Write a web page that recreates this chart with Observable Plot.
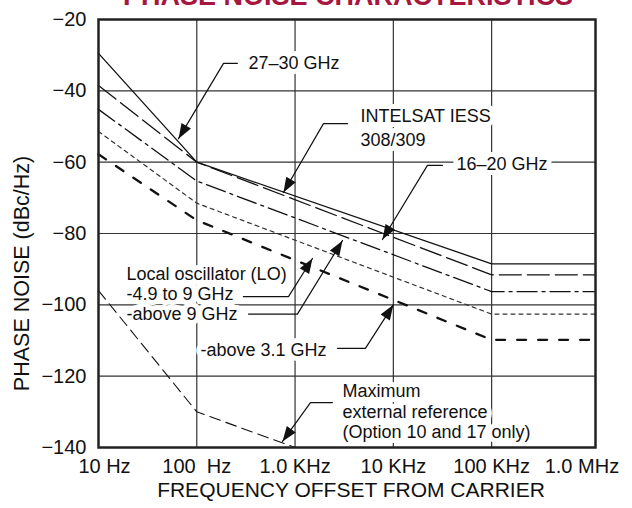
<!DOCTYPE html>
<html><head><meta charset="utf-8">
<script src="https://cdn.jsdelivr.net/npm/d3@7"></script>
<script src="https://cdn.jsdelivr.net/npm/@observablehq/plot@0.6"></script>
<style>
body{margin:0;background:#fff;}
#wrap{position:relative;width:632px;height:508px;overflow:hidden;background:#fff}
#title{position:absolute;left:32px;top:-17px;width:632px;text-align:center;font:bold 27px "Liberation Sans",Arial,sans-serif;color:#a6163f;line-height:27px;white-space:nowrap}
</style></head><body>
<div id="wrap"><div id="chart"></div><div id="title">PHASE NOISE CHARACTERISTICS</div></div>
<script>
// ---- data ----
const xMax = 1.14e6;                       // right edge of the frame
const freqs = [10, 100, 1e5, xMax];
const solid     = [-29.5, -60,   -88.5,  -88.5];
const longDash  = [-38.5, -60,   -91.6,  -91.6];
const dashDot   = [-45.2, -65.3, -96.3,  -96.3];
const shortDash = [-51.4, -71.5, -102.6, -102.6];
const boldDash  = [-57.8, -76.3, -109.8, -109.8];
const extRefFreqs = [10, 100, 1000];
const extRef      = [-96, -130, -140];

const xTicks = [10, 100, 1e3, 1e4, 1e5, 1e6];
const xTickLabels = ["10 Hz", "100\u00a0 Hz", "1.0 KHz", "10 KHz", "100 KHz", "1.0 MHz"];
const yTicks = [-20, -40, -60, -80, -100, -120, -140];

const labelText = ["27–30 GHz", "16–20 GHz", "-above 3.1 GHz",
  "Local oscillator (LO)\n-4.9 to 9 GHz\n-above 9 GHz",
  "Maximum\nexternal reference\n(Option 10 and 17 only)",
  "INTELSAT IESS\n308/309"];
const labelF  = [336, 43850, 109, 19.3, 3034, 4624];
const labelDb = [-32.1, -60.4, -112.5, -96.8, -129.8, -50.0];

const leader27   = [[259, -32.3], [187, -32.3], [65.2, -53.4]];
const leaderInt  = [[3412, -49.2], [1946, -49.2], [762, -68.5]];
const leader16   = [[31550, -60.9], [22230, -60.9], [7745, -81.7]];
const leaderLO49 = [[298.5, -97.7], [857, -97.7], [1503, -87.0]];
const leaderLO9  = [[336, -102.6], [1057, -102.6], [3034, -82.0]];
const leader31   = [[2698, -112.2], [5200, -112.2], [10000, -100]];
const leaderMax  = [[2399, -127.4], [1435, -127.4], [745, -138.3]];

// ---- build ----
const FONT = '"Liberation Sans", Arial, sans-serif';
const INK = "#111";
const mk = (fs, vs) => fs.map((f, i) => ({f, db: vs[i]}));
const labels = labelText.map((t, i) => ({text: t, f: labelF[i], db: labelDb[i]}));
const leaders = [leader27, leaderInt, leader16, leaderLO49, leaderLO9, leader31, leaderMax];
const leaderRows = leaders.flatMap((pts, id) => pts.map(([f, db]) => ({id, f, db})));

const curve = (vals, opts) => Plot.line(mk(freqs, vals), {x: "f", y: "db", stroke: INK, ...opts});
const fmtX = d => xTickLabels[xTicks.indexOf(d)];
const labelMark = (rows, lineHeight) => Plot.text(rows, {x: "f", y: "db", text: "text",
  textAnchor: "start", fontSize: 18, lineHeight, fill: INK,
  stroke: "white", strokeWidth: 10, strokeLinejoin: "round"});

const baseMarks = [
  Plot.ruleY(yTicks.slice(1, -1), {stroke: "#333", strokeWidth: 1.2}),
  Plot.ruleX(xTicks.slice(1, -1), {stroke: "#333", strokeWidth: 1.2}),
  labelMark(labels.slice(0, 5), 1.13),
  labelMark(labels.slice(5), 1.32),
  curve(solid, {strokeWidth: 1.3}),
  curve(longDash, {strokeWidth: 1.3, strokeDasharray: "22,6"}),
  curve(dashDot, {strokeWidth: 1.3, strokeDasharray: "20,5,3,5"}),
  curve(shortDash, {strokeWidth: 1.2, stroke: "#333", strokeDasharray: "4,4"}),
  curve(boldDash, {strokeWidth: 2.3, strokeDasharray: "9,12"}),
  Plot.line(mk(extRefFreqs, extRef), {x: "f", y: "db", stroke: INK, strokeWidth: 1.1, strokeDasharray: "11,6"}),
  Plot.line(leaderRows, {x: "f", y: "db", z: "id", stroke: INK, strokeWidth: 1.2}),
  Plot.frame({stroke: "#222", strokeWidth: 2.5}),
  Plot.axisY(yTicks, {tickSize: 0, tickPadding: 12, fontSize: 20, label: null}),
  Plot.axisX([xTicks[0]], {tickSize: 0, tickPadding: 11, fontSize: 20, label: null, dx: 6, tickFormat: fmtX}),
  Plot.axisX(xTicks.slice(1, -1), {tickSize: 0, tickPadding: 11, fontSize: 20, label: null, tickFormat: fmtX}),
  Plot.axisX([xTicks[xTicks.length - 1]], {tickSize: 0, tickPadding: 11, fontSize: 20, label: null, dx: -8, tickFormat: fmtX}),
  Plot.text(["FREQUENCY OFFSET FROM CARRIER"], {frameAnchor: "bottom", textAnchor: "middle", dy: 49, dx: 4, fontSize: 21, fill: INK}),
  Plot.text(["PHASE NOISE (dBc/Hz)"], {frameAnchor: "left", textAnchor: "middle", dx: -76, dy: 40, rotate: -90, fontSize: 21.5, fill: INK})
];

function build(extra) {
  return Plot.plot({
    width: 632, height: 508,
    marginLeft: 98, marginRight: 37, marginTop: 19, marginBottom: 61,
    x: {type: "log", domain: [10, xMax], label: null},
    y: {domain: [-140, -20], label: null},
    style: {fontFamily: FONT, fontSize: "20px", color: INK, background: "white"},
    marks: [...baseMarks, ...extra]
  });
}

const probe = build([]);
const sx = probe.scale("x"), sy = probe.scale("y");
const heads = leaders.map(pts => {
  const [pf, pd] = pts[pts.length - 2], [tf, td] = pts[pts.length - 1];
  const dx = sx.apply(tf) - sx.apply(pf), dy = sy.apply(td) - sy.apply(pd);
  return {f: tf, db: td, angle: Math.atan2(dx, -dy) * 180 / Math.PI};
});
const arrowHead = {draw(ctx) { ctx.moveTo(0, 0); ctx.lineTo(-5.5, 15); ctx.lineTo(5.5, 15); ctx.closePath(); }};

const chart = build([
  Plot.dot(heads, {x: "f", y: "db", rotate: "angle", symbol: arrowHead, r: 5, fill: INK, stroke: "none"})
]);
document.getElementById("chart").appendChild(chart);
</script>
</body></html>
